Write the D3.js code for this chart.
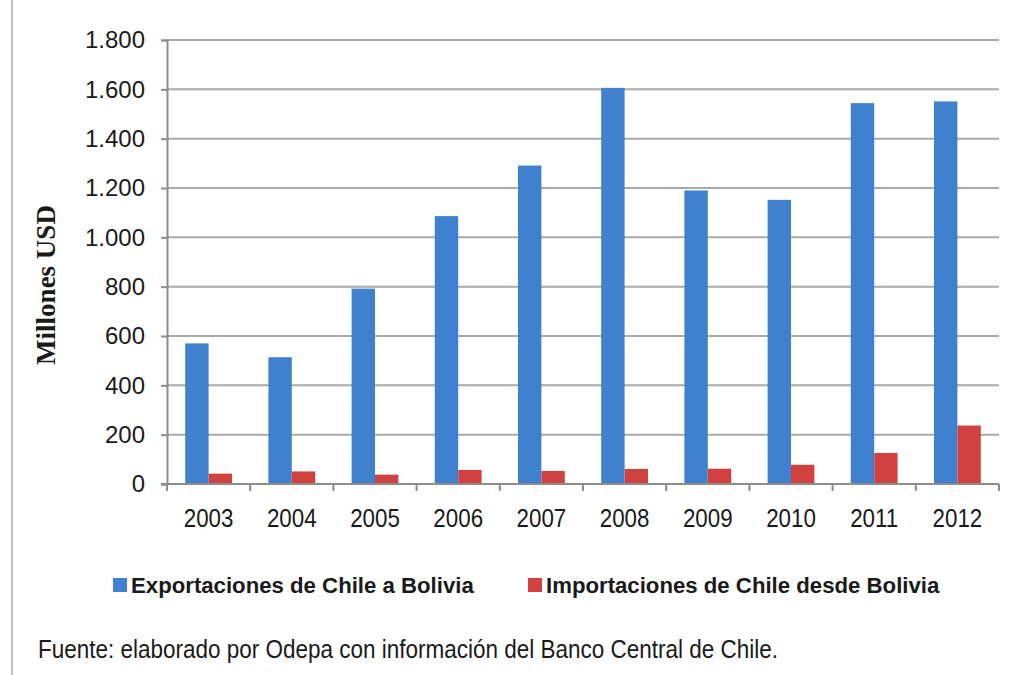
<!DOCTYPE html>
<html>
<head>
<meta charset="utf-8">
<script src="https://cdn.jsdelivr.net/npm/d3@7"></script>
<style>
  body { margin: 0; background: #fff; }
  text { font-family: "Liberation Sans", Arial, sans-serif; fill: #1a1a1a; }
</style>
</head>
<body>
<div id="wrapper"></div>
<script>
// 1. Data

const years = ['2003', '2004', '2005', '2006', '2007', '2008', '2009', '2010', '2011', '2012'];
const exportaciones = [570, 514, 792, 1086, 1291, 1606, 1190, 1152, 1544, 1551];
const importaciones = [42, 51, 38, 57, 53, 61, 62, 78, 126, 237];
const seriesNames = ['Exportaciones de Chile a Bolivia', 'Importaciones de Chile desde Bolivia'];
const yTicks = [0, 200, 400, 600, 800, 1000, 1200, 1400, 1600, 1800];
const colors = ['#3f80cf', '#d1413f'];

// 2. Dimensions

const dimensions = {
  width: 1014,
  height: 675,
  margin: { top: 40, right: 15, bottom: 191, left: 167 },
};
dimensions.boundedWidth = dimensions.width - dimensions.margin.left - dimensions.margin.right;
dimensions.boundedHeight = dimensions.height - dimensions.margin.top - dimensions.margin.bottom;

// 3. Canvas

const wrapper = d3.select('#wrapper')
  .append('svg')
  .attr('width', dimensions.width)
  .attr('height', dimensions.height);

// left frame line of the original document
wrapper.append('line')
  .attr('x1', 12).attr('x2', 12)
  .attr('y1', 0).attr('y2', dimensions.height)
  .attr('stroke', '#a8a8a8')
  .attr('stroke-width', 1.5);

const bounds = wrapper.append('g')
  .attr('transform', `translate(${dimensions.margin.left}, ${dimensions.margin.top})`);

// 4. Scales

const xScale = d3.scaleBand()
  .domain(years)
  .range([0, dimensions.boundedWidth])
  .paddingInner(0.4375)
  .paddingOuter(0.21875);

const subScale = d3.scaleBand()
  .domain([0, 1])
  .range([0, xScale.bandwidth()]);

const yScale = d3.scaleLinear()
  .domain([0, 1800])
  .range([dimensions.boundedHeight, 0]);

// gridlines
bounds.append('g')
  .selectAll('line')
  .data(yTicks.filter(d => d > 0))
  .join('line')
  .attr('x1', 0)
  .attr('x2', dimensions.boundedWidth)
  .attr('y1', d => yScale(d))
  .attr('y2', d => yScale(d))
  .attr('stroke', '#a9a9a9')
  .attr('stroke-width', 2);

// 5. Bars

const series = [exportaciones, importaciones];
const groups = bounds.append('g')
  .selectAll('g')
  .data(years)
  .join('g')
  .attr('transform', d => `translate(${xScale(d)}, 0)`);

groups.selectAll('rect')
  .data((d, i) => series.map((s, k) => ({ k, value: s[i] })))
  .join('rect')
  .attr('x', d => subScale(d.k))
  .attr('width', subScale.bandwidth())
  .attr('y', d => yScale(d.value))
  .attr('height', d => dimensions.boundedHeight - yScale(d.value))
  .attr('fill', d => colors[d.k]);

// 6. Axes

const yAxis = bounds.append('g')
  .call(d3.axisLeft(yScale).tickValues(yTicks).tickSize(6).tickPadding(16)
    .tickFormat(d => d3.format(',')(d).replace(/,/g, '.')));
yAxis.selectAll('.domain, line').attr('stroke', '#8c8c8c').attr('stroke-width', 2);
yAxis.selectAll('text')
  .style('font-size', '24px')
  .attr('fill', '#1a1a1a');

// x axis with ticks at band edges (Excel style)
const xAxis = bounds.append('g')
  .attr('transform', `translate(0, ${dimensions.boundedHeight})`);
xAxis.append('line')
  .attr('x1', -6).attr('x2', dimensions.boundedWidth)
  .attr('stroke', '#8c8c8c').attr('stroke-width', 2);
const step = xScale.step();
xAxis.selectAll('.tick-mark')
  .data(d3.range(years.length + 1))
  .join('line')
  .attr('class', 'tick-mark')
  .attr('x1', i => i * step).attr('x2', i => i * step)
  .attr('y1', 0).attr('y2', 7)
  .attr('stroke', '#8c8c8c').attr('stroke-width', 2);
// the source text is slightly condensed, so squeeze horizontally
xAxis.selectAll('.tick-label')
  .data(years)
  .join('text')
  .attr('class', 'tick-label')
  .attr('transform', d => `translate(${xScale(d) + xScale.bandwidth() / 2}, 43) scale(0.86, 1)`)
  .attr('text-anchor', 'middle')
  .style('font-size', '26px')
  .text(d => d);

// axis title
wrapper.append('text')
  .attr('transform', `translate(55, 285) rotate(-90)`)
  .attr('text-anchor', 'middle')
  .style('font-family', '"Liberation Serif", "Times New Roman", serif')
  .style('font-weight', 'bold')
  .style('font-size', '27px')
  .text('Millones USD');

// legend
const legendX = [113, 528];
const legend = wrapper.append('g')
  .selectAll('g')
  .data(seriesNames)
  .join('g')
  .attr('transform', (d, i) => `translate(${legendX[i]}, 578)`);
legend.append('rect')
  .attr('width', 14).attr('height', 14)
  .attr('fill', (d, i) => colors[i]);
legend.append('text')
  .attr('x', 18)
  .attr('y', 15)
  .style('font-size', '22.2px')
  .style('font-weight', 'bold')
  .text(d => d);

// source note
wrapper.append('text')
  .attr('transform', 'translate(38, 658) scale(0.9, 1)')
  .style('font-size', '25px')
  .attr('fill', '#222')
  .text('Fuente: elaborado por Odepa con información del Banco Central de Chile.');
</script>
</body>
</html>
